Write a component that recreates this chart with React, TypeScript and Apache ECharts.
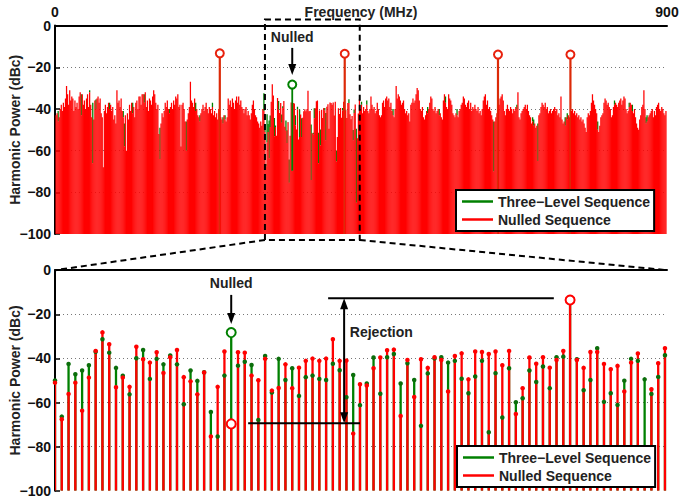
import React, { useEffect, useRef } from 'react';
import * as echarts from 'echarts';

// ---------- data ----------
const F_MAX = 900; // MHz span of the upper panel
const N_HARM = 583; // harmonic slots across 0–900 MHz
const ZOOM_START = 200; // harmonic index of the first stem in the lower panel
const ZOOM_SPAN = 90.3; // harmonics shown in the lower panel
const Y_TICKS = [0, -20, -40, -60, -80, -100];
const X_TICK_LABELS = ['0', '900'];
const SERIES_NAMES = ['Three−Level Sequence', 'Nulled Sequence'];

// Nulled sequence, harmonics 1..199 (upper panel, left of the zoom window)
const RED_LOW = [
  -43, -42, -46, -44, -40, -38, -41, -37, -39, -35,
  -29, -33, -38, -31, -36, -34, -35, -41, -36, -39,
  -37, -40, -34, -32, -43, -33, -38, -36, -40, -35,
  -33, -39, -32, -38, -44, -66, -45, -36, -40, -35,
  -34, -37, -35, -42, -44, -68, -41, -38, -42, -39,
  -37, -40, -38, -41, -39, -45, -43, -47, -31, -37,
  -36, -39, -35, -41, -44, -58, -43, -60, -42, -45,
  -38, -41, -37, -42, -39, -44, -37, -36, -40, -34,
  -34, -38, -33, -33, -37, -32, -39, -36, -41, -35,
  -36, -38, -34, -31, -33, -37, -40, -38, -52, -64,
  -47, -42, -44, -41, -37, -39, -36, -40, -42, -39,
  -37, -40, -36, -38, -34, -35, -33, -39, -38, -58,
  -38, -37, -40, -46, -60, -45, -42, -39, -27, -36,
  -37, -39, -35, -41, -40, -43, -44, -46, -42, -40,
  -38, -41, -39, -37, -40, -42, -39,
  -40, -42, -39,
  -43, -41, -44, -42, -45, -40, -13.3,
  -44, -45, -47, -43, -45,
  -46, -44, -35, -38,
  -36, -39, -35, -37, -40, -36,
  -34, -37, -34, -38, -36, -39,
  -40, -42, -40, -39, -43, -41,
  -43, -45, -42, -38, -36, -40,
  -43, -44, -46, -47, -49, -46,
  -48, -40, -41,
];

// Nulled sequence, harmonics 291..582 (upper panel, right of the zoom window)
const RED_HIGH = [
  -40, -38, -42, -39, -41, -40, -38, -41, -42, -40,
  -34, -38, -40, -39, -42, -41, -37, -40, -43, -44,
  -43, -37, -36, -39, -35, -34, -36, -35, -39, -37,
  -41, -43, -44, -40, -29, -35, -33, -34, -36, -38,
  -37, -36, -40, -42, -41, -43, -42, -46, -38, -37,
  -35, -37, -36, -33, -30, -31, -36, -40, -41, -39,
  -44, -45, -43, -41, -42, -40, -37, -34, -35, -40,
  -41, -39, -42, -41, -40, -43, -42, -44, -45, -36,
  -33, -37, -39, -40, -33, -35, -36, -38, -42, -43,
  -44, -42, -43, -44, -41, -40, -38, -37, -34, -35,
  -38, -39, -37, -36, -40, -37, -41, -39, -40, -38,
  -40, -41, -39, -42, -41, -43, -40, -36, -34, -33,
  -38, -36, -40, -39, -41,
  -43, -45, -70, -46, -44, -42,
  -13.9,
  -38, -35, -34, -33, -36,
  -41, -43, -40, -38, -40,
  -41, -39, -40, -42, -40, -41, -39,
  -40, -32, -44, -45, -42,
  -41, -40, -39, -38, -40,
  -38, -41, -43, -44, -47,
  -46, -48, -47, -49, -48,
  -65, -43, -42, -39, -37,
  -38, -39, -37, -40, -39,
  -42, -41, -40, -42, -41,
  -40, -39, -41, -40, -43,
  -42, -44, -34, -45, -47,
  -46, -48, -44, -45, -43, -44,
  -13.9,
  -41, -40, -42, -41, -43,
  -42, -44, -43, -45, -44,
  -46, -45, -47, -49, -51,
  -44, -42, -43, -41, -37,
  -33, -36, -38, -40, -42,
  -50, -51, -48, -44, -43,
  -42, -37, -35, -36, -38,
  -37, -39, -40, -44, -43,
  -39, -38, -37, -38, -39,
  -37, -36, -35, -38, -36,
  -34, -35, -40, -42, -41,
  -39, -37, -38, -41, -42,
  -40, -44, -47, -49, -50,
  -45, -43, -39, -38, -31,
  -40, -47, -46, -44, -43,
  -42, -41, -40, -44, -41,
  -43, -39, -38, -37, -40,
  -41, -39, -40, -42, -43, -41,
];

// Lower panel (harmonics 200..290): Nulled sequence
const ZOOM_RED = [
  -51, -67.6, -56.1, -51, -63.7, -48.7, -36.6, -28.2, -33.6, -53.1,
  -48.7, -52.9, -34.7, -40.4, -41.9, -37.2, -46.6, -39.5, -36.2, -48.5,
  -50.4, -56.3, -46.4, -75.4, -52.9, -36.9, -69.7, -37.2, -37.4, -47.8,
  -49.9, -40.2, -54.6, -53.4, -42.7, -53.5, -44.2, -41.1, -40.1, -41.1,
  -40.1, -31.3, -41.1, -41, -74.1, -51.7, -52.3, -44.5, -39.6, -36.3,
  -36, -66.1, -40.7, -57.5, -40.4, -44.3, -39.5, -40.7, -55, -38.9,
  -37.7, -49.5, -36.9, -37.1, -38, -36.9, -43.1, -36.6, -65.2, -53.5,
  -39.6, -42.4, -39.5, -44.2, -40.7, -36.6, -13.5, -40.7, -44.3, -37.1,
  -37.1, -42.5, -44.9, -43.4, -55, -41.9, -37.8, -85, -54, -42.2,
  -35.4,
];

// Lower panel (harmonics 200..290): Three-level sequence
const ZOOM_GREEN = [
  -50, -66.4, -42.5, -47.2, -45.5, -43.1, -37, -31.3, -37.4, -44.3,
  -47.9, -56.3, -39.9, -36.2, -49.3, -40.2, -42.7, -38.7, -42.7, -60.8,
  -45.5, -50.2, -46.3, -64.3, -75.4, -47.8, -28.3, -43.3, -41.5, -43,
  -67.9, -38.9, -55.5, -40.2, -49.8, -44.5, -57, -48.5, -47.8, -49.3,
  -49.8, -42.4, -45.4, -57.6, -47.5, -61.2, -51.4, -39.6, -56, -39.5,
  -38, -51.4, -42.2, -49.8, -70.6, -46.8, -40, -39.5, -41.9, -41.1,
  -49.2, -55.8, -48.2, -41.1, -73.5, -46.7, -66.8, -44.5, -59.9, -58.1,
  -45.5, -50.7, -43.7, -53.5, -39.5, -39.2, -13.5, -40.4, -54.4, -49.8,
  -35.4, -59.7, -55.8, -61.1, -50.1, -40.2, -41.1, -49.5, -56.1, -48.4,
  -38.6,
];

// Three-level sequence in the upper panel where it rises above the nulled one: [harmonic, dBc]
const GREEN_TOP = [
  [3, -41], [25, -33], [33, -31], [36, -37], [39, -35.5], [52, -37], [65, -41], [66, -47],
  [74, -37], [85, -33], [100, -49], [109, -40], [125, -46], [134, -37], [138, -43],
  [150, -37], [160, -44], [162, -43], [199, -32.5], [292, -36.5], [297, -36], [322, -40],
  [355, -39], [366, -40], [372, -34], [383, -40], [418, -46], [440, -38], [455, -44],
  [456, -45], [460, -47], [486, -44], [488, -42], [517, -46], [533, -36], [547, -37],
  [550, -38], [563, -44], [564, -43],
];

const PEAK_H = [157, 276, 422, 491]; // circled tones (harmonic index)
const NULLED_H = 226; // the nulled harmonic

// ---------- helpers ----------
const FONT = "'Liberation Sans', Arial, Helvetica, sans-serif";
const RED = '#ff0000';
const GREEN = '#008000';
const fh = (h: number) => (h * F_MAX) / N_HARM;
const LAST_ZOOM_H = ZOOM_START + ZOOM_RED.length - 1;
const redAt = (h: number) =>
  h < ZOOM_START ? RED_LOW[h - 1] : h <= LAST_ZOOM_H ? ZOOM_RED[h - ZOOM_START] : RED_HIGH[h - LAST_ZOOM_H - 1];
const greenZoomAt = (h: number) => ZOOM_GREEN[h - ZOOM_START];
const N_TOP = RED_LOW.length + ZOOM_RED.length + RED_HIGH.length;

const fmtY = (v: number) => (v === 0 ? '0' : '−' + Math.abs(v));

function buildOption(): any {
  const topRed: number[][] = [];
  for (let h = 1; h <= N_TOP; h++) topRed.push([fh(h), redAt(h)]);

  const topGreen: number[][] = [];
  GREEN_TOP.forEach(([h, g]) => topGreen.push([fh(h), g, redAt(h)]));
  for (let h = ZOOM_START; h <= LAST_ZOOM_H; h++) {
    const g = greenZoomAt(h);
    const r = redAt(h);
    if (g > r && h !== NULLED_H) topGreen.push([fh(h), g, r]);
  }
  const topNulled = [[fh(NULLED_H), greenZoomAt(NULLED_H), redAt(NULLED_H)]];

  const zRed = ZOOM_RED.map((v, i) => [fh(ZOOM_START + i), v]);
  const zGreen = ZOOM_GREEN.map((v, i) => [fh(ZOOM_START + i), v]);

  const barRender = (params: any, api: any) => {
    const x = api.value(0);
    const v = api.value(1);
    const top = api.coord([x, v]);
    const base = api.coord([x, -100]);
    const peak = v > -25;
    const w = peak ? 2.2 : 1.25;
    return {
      type: 'rect',
      shape: { x: top[0] - w / 2, y: top[1], width: w, height: base[1] - top[1] },
      style: { fill: peak ? '#dc2a08' : RED },
    };
  };
  const greenSegRender = (w: number) => (params: any, api: any) => {
    const x = api.value(0);
    const g = api.value(1);
    const r = api.value(2);
    const top = api.coord([x, g]);
    const bot = api.coord([x, Math.max(r, -100)]);
    return {
      type: 'rect',
      shape: { x: top[0] - w / 2, y: top[1], width: w, height: bot[1] - top[1] },
      style: { fill: GREEN },
    };
  };
  const stemRender = (color: string) => (params: any, api: any) => {
    const x = api.value(0);
    const v = api.value(1);
    const top = api.coord([x, v]);
    const base = api.coord([x, -100]);
    const w = 2.3;
    return {
      type: 'rect',
      shape: { x: top[0] - w / 2, y: top[1], width: w, height: base[1] - top[1] },
      style: { fill: color },
    };
  };

  const yAxis = (gridIndex: number) => ({
    type: 'value',
    gridIndex,
    min: Y_TICKS[Y_TICKS.length - 1],
    max: Y_TICKS[0],
    interval: 20,
    name: 'Harmonic Power (dBc)',
    nameLocation: 'middle',
    nameGap: 33,
    nameMoveOverlap: false,
    nameTextStyle: { fontFamily: FONT, fontSize: 14, fontWeight: 'bold', color: '#222' },
    axisLine: { show: true, onZero: false, lineStyle: { color: '#000', width: 2 } },
    axisTick: { show: true, inside: true, length: 5, lineStyle: { color: '#000', width: 1.5 } },
    axisLabel: { fontFamily: FONT, fontSize: 14, fontWeight: 'bold', color: '#111', margin: 4, formatter: fmtY },
    splitLine: { show: true, showMinLine: false, showMaxLine: false, lineStyle: { color: '#777', width: 1, type: [1, 3] } },
  });

  const legend = (left: number, top: number) => ({
    left,
    top,
    orient: 'vertical',
    align: 'left',
    selectedMode: false,
    data: [
      { name: SERIES_NAMES[0], icon: 'rect', itemStyle: { color: GREEN } },
      { name: SERIES_NAMES[1], icon: 'rect', itemStyle: { color: RED } },
    ],
    itemWidth: 31,
    itemHeight: 2.5,
    itemGap: 1,
    padding: [3, 4, 3, 6],
    borderColor: '#000',
    borderWidth: 2,
    borderRadius: 0,
    backgroundColor: '#fff',
    z: 20,
    textStyle: { fontFamily: FONT, fontSize: 14, fontWeight: 'bold', color: '#222', lineHeight: 17 },
  });

  return {
    animation: false,
    backgroundColor: '#fff',
    grid: [
      { left: 55, right: 15, top: 25.6, height: 208.4, outerBoundsMode: 'none', containLabel: false },
      { left: 55, right: 15, top: 270.2, height: 220.5, outerBoundsMode: 'none', containLabel: false },
    ],
    xAxis: [
      {
        type: 'value',
        gridIndex: 0,
        position: 'top',
        min: 0,
        max: F_MAX,
        interval: F_MAX,
        name: 'Frequency (MHz)',
        nameLocation: 'middle',
        nameGap: 7,
        nameMoveOverlap: false,
        nameTextStyle: { fontFamily: FONT, fontSize: 14, fontWeight: 'bold', color: '#222' },
        axisLine: { show: true, onZero: false, lineStyle: { color: '#000', width: 2 } },
        axisTick: { show: false },
        axisLabel: {
          fontFamily: FONT,
          fontSize: 14,
          fontWeight: 'bold',
          color: '#111',
          margin: 7,
          formatter: (v: number) => (v === 0 ? X_TICK_LABELS[0] : X_TICK_LABELS[1]),
        },
        splitLine: { show: false },
      },
      {
        type: 'value',
        gridIndex: 1,
        position: 'top',
        min: fh(ZOOM_START),
        max: fh(ZOOM_START + ZOOM_SPAN),
        axisLine: { show: true, onZero: false, lineStyle: { color: '#000', width: 2 } },
        axisTick: { show: false },
        axisLabel: { show: false },
        splitLine: { show: false },
      },
    ],
    yAxis: [yAxis(0), yAxis(1)],
    legend: [legend(456, 190), legend(457, 446)],
    series: [
      // upper panel
      {
        type: 'custom',
        name: SERIES_NAMES[0],
        xAxisIndex: 0,
        yAxisIndex: 0,
        clip: true,
        z: 1,
        itemStyle: { color: GREEN },
        renderItem: greenSegRender(1.3),
        encode: { x: 0, y: 1 },
        data: topGreen,
      },
      {
        type: 'custom',
        name: SERIES_NAMES[1],
        xAxisIndex: 0,
        yAxisIndex: 0,
        clip: true,
        z: 2,
        itemStyle: { color: RED },
        renderItem: barRender,
        encode: { x: 0, y: 1 },
        data: topRed,
      },
      {
        type: 'custom',
        name: 'nulled-stem-top',
        xAxisIndex: 0,
        yAxisIndex: 0,
        clip: true,
        z: 3,
        itemStyle: { color: GREEN },
        renderItem: greenSegRender(1.8),
        encode: { x: 0, y: 1 },
        data: topNulled,
      },
      {
        type: 'scatter',
        name: 'peaks-top',
        xAxisIndex: 0,
        yAxisIndex: 0,
        z: 5,
        symbol: 'circle',
        symbolSize: 8,
        itemStyle: { color: '#fff', borderColor: '#e8200c', borderWidth: 2, opacity: 1 },
        data: PEAK_H.map((h) => [fh(h), redAt(h)]),
      },
      {
        type: 'scatter',
        name: 'nulled-top',
        xAxisIndex: 0,
        yAxisIndex: 0,
        z: 5,
        symbol: 'circle',
        symbolSize: 8,
        itemStyle: { color: '#fff', borderColor: GREEN, borderWidth: 2, opacity: 1 },
        data: [[fh(NULLED_H), greenZoomAt(NULLED_H)]],
      },
      // lower panel
      {
        type: 'custom',
        name: SERIES_NAMES[0],
        xAxisIndex: 1,
        yAxisIndex: 1,
        clip: true,
        z: 2,
        itemStyle: { color: GREEN },
        renderItem: stemRender(GREEN),
        encode: { x: 0, y: 1 },
        data: zGreen,
      },
      {
        type: 'custom',
        name: SERIES_NAMES[1],
        xAxisIndex: 1,
        yAxisIndex: 1,
        clip: true,
        z: 3,
        itemStyle: { color: RED },
        renderItem: stemRender(RED),
        encode: { x: 0, y: 1 },
        data: zRed,
      },
      {
        type: 'scatter',
        name: 'green-dots',
        xAxisIndex: 1,
        yAxisIndex: 1,
        z: 4,
        symbol: 'circle',
        symbolSize: 4.5,
        itemStyle: { color: '#0b6e0b', opacity: 1 },
        data: zGreen,
      },
      {
        type: 'scatter',
        name: 'red-dots',
        xAxisIndex: 1,
        yAxisIndex: 1,
        z: 5,
        symbol: 'circle',
        symbolSize: 4.5,
        itemStyle: { color: RED, opacity: 1 },
        data: zRed,
      },
      {
        type: 'scatter',
        name: 'circles-red',
        xAxisIndex: 1,
        yAxisIndex: 1,
        z: 6,
        symbol: 'circle',
        symbolSize: 9,
        itemStyle: { color: '#fff', borderColor: RED, borderWidth: 2, opacity: 1 },
        data: [
          [fh(NULLED_H), redAt(NULLED_H)],
          [fh(PEAK_H[1]), redAt(PEAK_H[1])],
        ],
      },
      {
        type: 'scatter',
        name: 'circles-green',
        xAxisIndex: 1,
        yAxisIndex: 1,
        z: 6,
        symbol: 'circle',
        symbolSize: 9,
        itemStyle: { color: '#fff', borderColor: GREEN, borderWidth: 2, opacity: 1 },
        data: [[fh(NULLED_H), greenZoomAt(NULLED_H)]],
      },
    ],
  };
}

function buildGraphic(chart: any): any[] {
  const p0 = (x: number, y: number) => chart.convertToPixel({ gridIndex: 0 }, [x, y]);
  const p1 = (x: number, y: number) => chart.convertToPixel({ gridIndex: 1 }, [x, y]);
  const fz = (i: number) => fh(ZOOM_START + i);
  const Z = 100;
  const dash = { stroke: '#000', lineWidth: 2, lineDash: [6, 4], fill: 'none' };
  const solid = { stroke: '#000', lineWidth: 2 };
  const txt = (text: string, x: number, y: number, align = 'center') => ({
    type: 'text',
    z: Z,
    x,
    y,
    style: {
      text,
      fill: '#222',
      fontFamily: FONT,
      fontSize: 14,
      fontWeight: 'bold',
      align,
      verticalAlign: 'middle',
    },
  });
  const head = (x: number, tipY: number, dir: number) => ({
    type: 'polygon',
    z: Z,
    shape: { points: [[x - 4, tipY - dir * 11], [x + 4, tipY - dir * 11], [x, tipY]] },
    style: { fill: '#000' },
  });
  const arrowDown = (x: number, y1: number, y2: number) => [
    { type: 'line', z: Z, shape: { x1: x, y1, x2: x, y2: y2 - 9 }, style: solid },
    head(x, y2, 1),
  ];

  const xl = p0(fh(ZOOM_START), 0)[0];
  const xr = p0(fh(ZOOM_START + ZOOM_SPAN), 0)[0];
  const yt = p0(0, 0)[1] - 6;
  const yb = p0(0, -100)[1] + 6;
  const bl = p1(fz(0), 0);
  const br = p1(fz(ZOOM_SPAN), 0);

  // upper "Nulled"
  const nx = p0(fh(NULLED_H), 0)[0];
  const nTextY = p0(0, -5.5)[1];
  const nA1 = p0(0, -10.7)[1];
  const nA2 = p0(0, -23.7)[1];
  // lower "Nulled"
  const mx = p1(fz(NULLED_H - ZOOM_START), 0)[0];
  const mTextY = p1(fz(0), -5.8)[1];
  const mA1 = p1(fz(0), -11.2)[1];
  const mA2 = p1(fz(0), -24.4)[1];
  // Rejection
  const rx = p1(fz(42.66), 0)[0];
  const rTop = p1(fz(0), -12.7)[1];
  const rBot = p1(fz(0), -69.4)[1];
  const rTopL = p1(fz(40.3), 0)[0];
  const rTopR = p1(fz(73.6), 0)[0];
  const rBotL = p1(fz(28.5), 0)[0];
  const rBotR = p1(fz(45), 0)[0];
  const rTextX = p1(fz(43.5), 0)[0];
  const rTextY = p1(fz(0), -27.9)[1];

  return [
    { type: 'rect', z: Z, shape: { x: xl, y: yt, width: xr - xl, height: yb - yt }, style: dash },
    { type: 'line', z: Z, shape: { x1: xl, y1: yb, x2: bl[0], y2: bl[1] }, style: dash },
    { type: 'line', z: Z, shape: { x1: xr, y1: yb, x2: br[0], y2: br[1] }, style: dash },
    txt('Nulled', nx, nTextY),
    ...arrowDown(nx, nA1, nA2),
    txt('Nulled', mx, mTextY),
    ...arrowDown(mx, mA1, mA2),
    { type: 'line', z: Z, shape: { x1: rTopL, y1: rTop, x2: rTopR, y2: rTop }, style: solid },
    { type: 'line', z: Z, shape: { x1: rBotL, y1: rBot, x2: rBotR, y2: rBot }, style: solid },
    { type: 'line', z: Z, shape: { x1: rx, y1: rTop + 9, x2: rx, y2: rBot - 9 }, style: solid },
    head(rx, rTop, -1),
    head(rx, rBot, 1),
    txt('Rejection', rTextX, rTextY, 'left'),
  ];
}

export default function App() {
  const ref = useRef<HTMLDivElement>(null);
  useEffect(() => {
    const el = ref.current;
    if (!el) return;
    const chart = echarts.init(el, null, { renderer: 'svg' });
    chart.setOption(buildOption());
    chart.setOption({ graphic: buildGraphic(chart) });
    return () => chart.dispose();
  }, []);
  return (
    <div
      ref={ref}
      style={{ position: 'fixed', left: 0, top: 0, width: 682, height: 500, background: '#fff' }}
    />
  );
}
